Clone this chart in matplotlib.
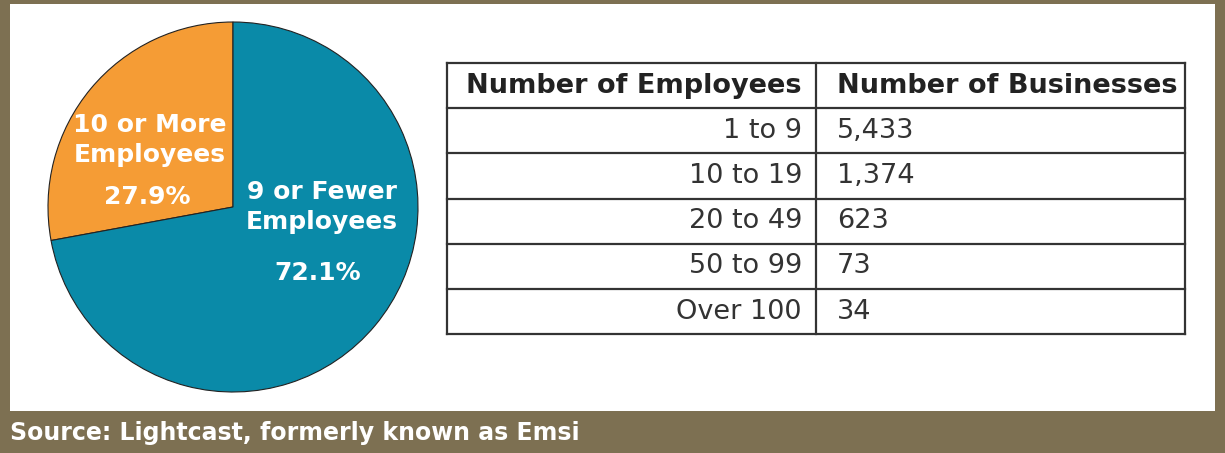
import numpy as np
import matplotlib.pyplot as plt
from matplotlib.patches import Rectangle

#%% Data
pie_labels = ['10 or More\nEmployees', '9 or Fewer\nEmployees']
pie_pcts = [27.9, 72.1]
pie_colors = ['#F59C35', '#0A8AA8']

emp_sizes = ['1 to 9', '10 to 19', '20 to 49', '50 to 99', 'Over 100']
businesses = [5433, 1374, 623, 73, 34]
headers = ['Number of Employees', 'Number of Businesses']

source = 'Source: Lightcast, formerly known as Emsi'

#%% Style
plt.rcParams['font.family'] = ['DejaVu Sans']
W, H = 1225, 453
brown = '#7D7052'

fig = plt.figure(figsize=(W / 100, H / 100), dpi=100, facecolor=brown)
ax = fig.add_axes([0, 0, 1, 1])

# white panel
ax.add_patch(Rectangle((10, H - 411), 1205, 407, facecolor='white', edgecolor='none', zorder=0))

#%% Pie
cx, cy, r = 233, H - 207, 185
wedges, _ = ax.pie(pie_pcts, colors=pie_colors, startangle=90, counterclock=True,
                   center=(cx, cy), radius=r, frame=True,
                   wedgeprops=dict(edgecolor='#222222', linewidth=0.8))
ax.set_xlim(0, W)
ax.set_ylim(0, H)
ax.set_aspect('equal')
ax.axis('off')

lbl_pos = [(150, H - 140), (322, H - 207)]
pct_pos = [(147, H - 197), (318, H - 273)]
for lab, pct, lp, pp in zip(pie_labels, pie_pcts, lbl_pos, pct_pos):
    ax.text(lp[0], lp[1], lab, ha='center', va='center', color='white',
            fontsize=18, fontweight='bold', linespacing=1.3)
    ax.text(pp[0], pp[1], f'{pct}%', ha='center', va='center', color='white',
            fontsize=18, fontweight='bold')

#%% Table
x0, x1, xdiv = 447, 1185, 816
y_top, row_h = 63, 45.2
n_rows = len(emp_sizes) + 1
line_c = '#333333'
ys = [H - (y_top + i * row_h) for i in range(n_rows + 1)]
hl = ax.hlines(ys, x0, x1, color=line_c, linewidth=1.6)
vl = ax.vlines([x0, xdiv, x1], ys[-1], ys[0], color=line_c, linewidth=1.6)
hl.set_capstyle('projecting')
vl.set_capstyle('projecting')

def row_mid(i):
    return (ys[i] + ys[i + 1]) / 2

ax.text(xdiv - 14, row_mid(0), headers[0], ha='right', va='center',
        fontsize=19.5, fontweight='bold', color='#222222')
ax.text(xdiv + 21, row_mid(0), headers[1], ha='left', va='center',
        fontsize=19.5, fontweight='bold', color='#222222')
for i, (e, b) in enumerate(zip(emp_sizes, businesses)):
    ax.text(xdiv - 14, row_mid(i + 1), e, ha='right', va='center',
            fontsize=19.5, fontweight='normal', color='#333333')
    ax.text(xdiv + 21, row_mid(i + 1), f'{b:,}', ha='left', va='center',
            fontsize=19.5, fontweight='normal', color='#333333')

#%% Source
ax.text(10, H - 433, source, ha='left', va='center', color='white',
        fontsize=17, fontweight='bold')

plt.savefig('out.png', dpi=100, facecolor=brown)
plt.close()
